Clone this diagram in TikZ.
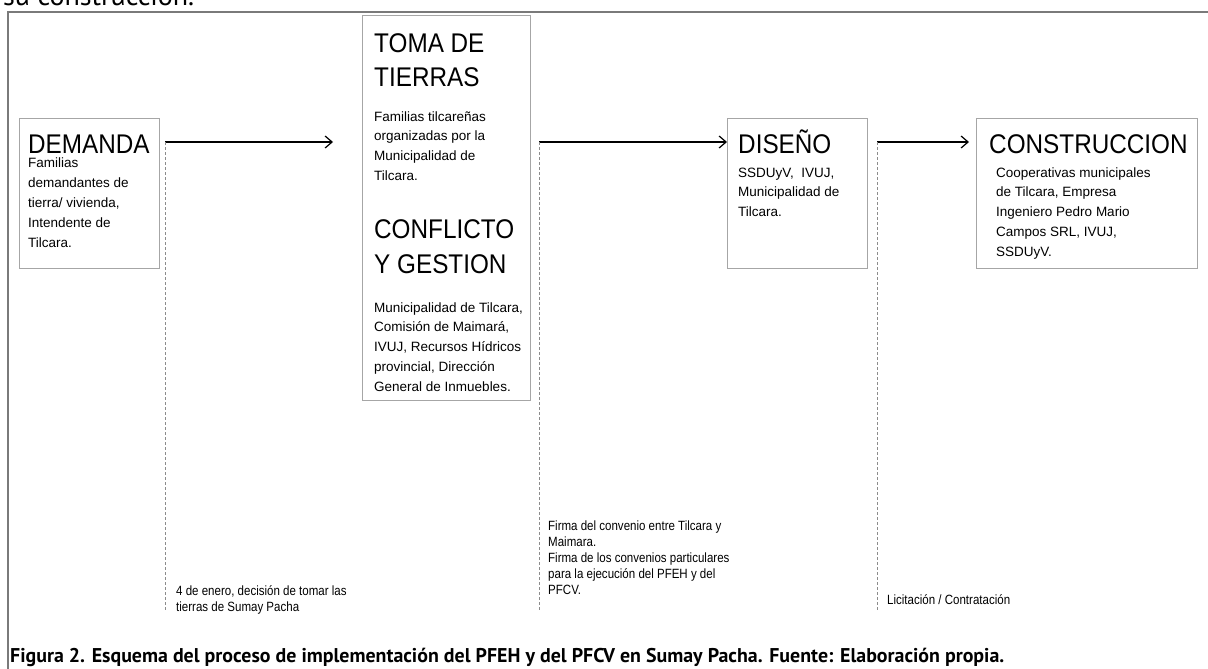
\documentclass[tikz,border=0pt]{standalone}
\usepackage{fontspec}
\setmainfont{Liberation Sans}
\newfontfamily\headfont{Liberation Sans}[FakeStretch=0.9]
\newfontfamily\notefont{Liberation Sans}[FakeStretch=0.86]
\newfontfamily\capfont{PT Sans}
\usetikzlibrary{arrows.meta}
\definecolor{framegray}{HTML}{7A7A7A}
\definecolor{boxgray}{HTML}{A6A6A6}
\definecolor{tickgray}{HTML}{8C8C8C}
\tikzset{
  stage/.style={
    rectangle,
    draw=boxgray,
    line width=0.9pt,
    anchor=north west,
    inner sep=0pt
    },
  head/.style={
    anchor=base west,
    inner sep=0pt,
    align=left,
    font=\headfont\fontsize{27}{35}\selectfont
    },
  body/.style={
    anchor=base west,
    inner sep=0pt,
    align=left,
    font=\fontsize{13.5}{19.8}\selectfont
    },
  note/.style={
    anchor=base west,
    inner sep=0pt,
    align=left,
    font=\notefont\fontsize{13.4}{16}\selectfont
    },
  flow/.style={line width=1.2pt, -{Straight Barb[length=7pt,width=12pt]}},
  tick/.style={draw=tickgray, line width=0.9pt, dash pattern=on 3pt off 2pt},
}

\begin{document}
\begin{tikzpicture}[x=1pt, y=-1pt]
  \useasboundingbox (0,0) rectangle (1208,669);

  % cut-off line of the page above
  \node[anchor=base west, inner sep=0pt, font=\capfont\fontsize{28}{28}\selectfont] (prev) at (3,6) {su construcción.};

  % frame
  \draw[framegray, line width=2pt] (8,680) -- (8,12) -- (1220,12);

  % stages (multi-line texts sit on the baseline of their last line)
  \node[stage, minimum width=140pt, minimum height=150pt] (dem) at (19,118) {};
  \node[head] (demT) at (28,153) {DEMANDA};
  \node[body] (demB) at (28,247) {Familias\\demandantes de\\tierra/ vivienda,\\Intendente de\\Tilcara.};

  \node[stage, minimum width=168pt, minimum height=385pt] (toma) at (362,15) {};
  \node[head] (tomaT) at (374,87) {TOMA DE\\TIERRAS};
  \node[body] (tomaB) at (374,180.4) {Familias tilcareñas\\organizadas por la\\Municipalidad de\\Tilcara.};
  \node[head] (confT) at (374,273) {CONFLICTO\\Y GESTION};
  \node[body] (confB) at (374,391.2) {Municipalidad de Tilcara,\\Comisión de Maimará,\\IVUJ, Recursos Hídricos\\provincial, Dirección\\General de Inmuebles.};

  \node[stage, minimum width=140pt, minimum height=150pt] (dis) at (727,118) {};
  \node[head] (disT) at (738,153) {DISEÑO};
  \node[body] (disB) at (738,216.6) {SSDUyV,\ \ IVUJ,\\Municipalidad de\\Tilcara.};

  \node[stage, minimum width=221pt, minimum height=150pt] (con) at (976,118) {};
  \node[head] (conT) at (989,153) {CONSTRUCCION};
  \node[body] (conB) at (996,256.2) {Cooperativas municipales\\de Tilcara, Empresa\\Ingeniero Pedro Mario\\Campos SRL, IVUJ,\\SSDUyV.};

  % transitions
  \coordinate (t1) at (165,142);
  \coordinate (t1e) at (333,142);
  \coordinate (t1b) at (165,611);
  \coordinate (t2) at (539,142);
  \coordinate (t2b) at (539,611);
  \coordinate (t3) at (877,142);
  \coordinate (t3e) at (969,142);
  \coordinate (t3b) at (877,611);

  \draw[flow] (t1) -- (t1e);
  \draw[flow] (t2) -- (t2 -| dis.west);
  \draw[flow] (t3) -- (t3e);
  \draw[tick] (t1) -- (t1b);
  \draw[tick] (t2) -- (t2b);
  \draw[tick] (t3) -- (t3b);

  \node[note] (n1) at (176,611) {4 de enero, decisión de tomar las\\tierras de Sumay Pacha};
  \node[note] (n2) at (548,594) {Firma del convenio entre Tilcara y\\Maimara.\\Firma de los convenios particulares\\para la ejecución del PFEH y del\\PFCV.};
  \node[note] (n3) at (887,604) {Licitación / Contratación};

  % caption
  \node[anchor=base west, inner sep=0pt, font=\capfont\bfseries\fontsize{19.9}{20}\selectfont] (cap) at (10,662)
    {Figura 2. Esquema del proceso de implementación del PFEH y del PFCV en Sumay Pacha. Fuente: Elaboración propia.};
\end{tikzpicture}
\end{document}
